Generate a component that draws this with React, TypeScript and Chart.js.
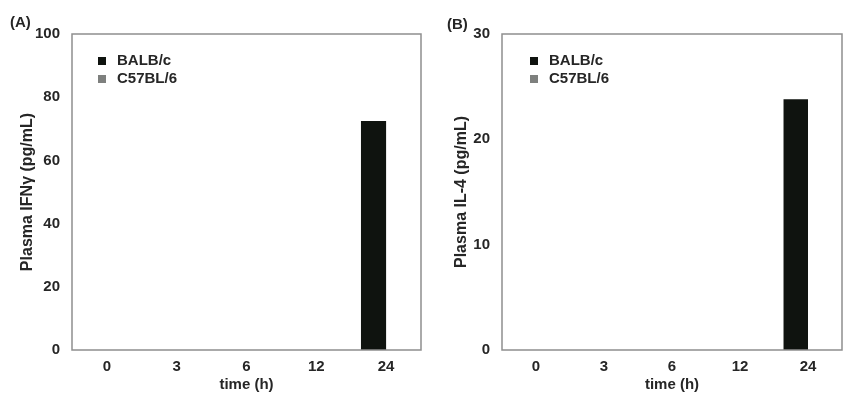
import React, { useEffect, useRef } from "react";
import { Chart, registerables } from "chart.js";

Chart.register(...registerables);

// ---- data ----
const timeLabels = ["0", "3", "6", "12", "24"];
const seriesNames = ["BALB/c", "C57BL/6"];
const seriesColors = ["#0f130f", "#7e807e"];

const ifnBALBc = [0, 0, 0, 0, 72.5];
const ifnC57 = [0, 0, 0, 0, 0];
const ifnTicks = { min: 0, max: 100, step: 20 };

const il4BALBc = [0, 0, 0, 0, 23.8];
const il4C57 = [0, 0, 0, 0, 0];
const il4Ticks = { min: 0, max: 30, step: 10 };

const panelLabels = ["(A)", "(B)"];
const yTitles = ["Plasma IFNγ (pg/mL)", "Plasma IL-4 (pg/mL)"];
const xTitle = "time (h)";

const FONT = '"Liberation Sans", Arial, Helvetica, sans-serif';
const TEXT = "#262626";

const decorPlugin = {
  id: "decor",
  afterDraw(chart: any, _args: any, opts: any) {
    const { ctx, chartArea: a } = chart;
    ctx.save();
    ctx.strokeStyle = "#8e8e8e";
    ctx.lineWidth = 1.5;
    ctx.strokeRect(a.left, a.top, a.right - a.left, a.bottom - a.top);
    ctx.font = `bold 15px ${FONT}`;
    ctx.textBaseline = "middle";
    ctx.textAlign = "left";
    chart.data.datasets.forEach((ds: any, i: number) => {
      const y = a.top + opts.legendTop + i * 18;
      const x = a.left + opts.legendLeft;
      ctx.fillStyle = ds.backgroundColor;
      ctx.fillRect(x, y - 4, 8, 8);
      ctx.fillStyle = TEXT;
      ctx.fillText(ds.label, x + 19, y);
    });
    ctx.font = `bold 15px ${FONT}`;
    ctx.fillStyle = TEXT;
    ctx.fillText(opts.panel, opts.panelX, opts.panelY);
    ctx.restore();
  },
};

type PanelProps = {
  left: number;
  width: number;
  a: number[];
  b: number[];
  ticks: { min: number; max: number; step: number };
  yTitle: string;
  panel: string;
  padRight: number;
  yTitlePad: number;
  legendLeft: number;
  panelX: number;
  panelY: number;
};

function Panel(p: PanelProps) {
  const ref = useRef<HTMLCanvasElement | null>(null);
  useEffect(() => {
    if (!ref.current) return;
    const chart = new Chart(ref.current, {
      type: "bar",
      data: {
        labels: timeLabels,
        datasets: [
          { label: seriesNames[0], data: p.a, backgroundColor: seriesColors[0], borderWidth: 0 },
          { label: seriesNames[1], data: p.b, backgroundColor: seriesColors[1], borderWidth: 0 },
        ],
      },
      options: {
        animation: false,
        responsive: false,
        devicePixelRatio: 1,
        layout: { padding: { top: 34, right: p.padRight, bottom: 0, left: 0 } },
        datasets: { bar: { categoryPercentage: 0.72, barPercentage: 1 } },
        plugins: {
          legend: { display: false },
          tooltip: { enabled: false },
          decor: {
            legendTop: 27,
            legendLeft: p.legendLeft,
            panel: p.panel,
            panelX: p.panelX,
            panelY: p.panelY,
          },
        } as any,
        scales: {
          x: {
            grid: { display: false },
            border: { display: false },
            ticks: { color: TEXT, font: { family: FONT, size: 15, weight: "bold" }, padding: 0, maxRotation: 0 },
            title: {
              display: true,
              text: xTitle,
              color: TEXT,
              font: { family: FONT, size: 15, weight: "bold" },
              padding: { top: 0, bottom: 0 },
            },
            afterFit: (s: any) => {
              s.height = 44;
            },
          },
          y: {
            min: p.ticks.min,
            max: p.ticks.max,
            grid: { display: false },
            border: { display: false },
            ticks: {
              stepSize: p.ticks.step,
              color: TEXT,
              font: { family: FONT, size: 15, weight: "bold" },
              padding: 4,
            },
            title: {
              display: true,
              text: p.yTitle,
              color: TEXT,
              font: { family: FONT, size: 16, weight: "bold" },
              padding: { top: p.yTitlePad, bottom: 0 },
            },
            afterFit: (s: any) => {
              s.width = 72;
            },
          },
        },
      },
      plugins: [decorPlugin],
    });
    return () => chart.destroy();
  }, []);
  return (
    <canvas
      ref={ref}
      width={p.width}
      height={394}
      style={{ position: "absolute", left: p.left, top: 0, width: p.width, height: 394 }}
    />
  );
}

export default function App() {
  return (
    <div style={{ position: "fixed", left: 0, top: 0, width: 844, height: 394, background: "#fff" }}>
      <Panel
        left={0}
        width={430}
        a={ifnBALBc}
        b={ifnC57}
        ticks={ifnTicks}
        yTitle={yTitles[0]}
        panel={panelLabels[0]}
        padRight={9}
        yTitlePad={18}
        legendLeft={26}
        panelX={10}
        panelY={23}
      />
      <Panel
        left={430}
        width={414}
        a={il4BALBc}
        b={il4C57}
        ticks={il4Ticks}
        yTitle={yTitles[1]}
        panel={panelLabels[1]}
        padRight={2}
        yTitlePad={22}
        legendLeft={28}
        panelX={17}
        panelY={25}
      />
    </div>
  );
}
